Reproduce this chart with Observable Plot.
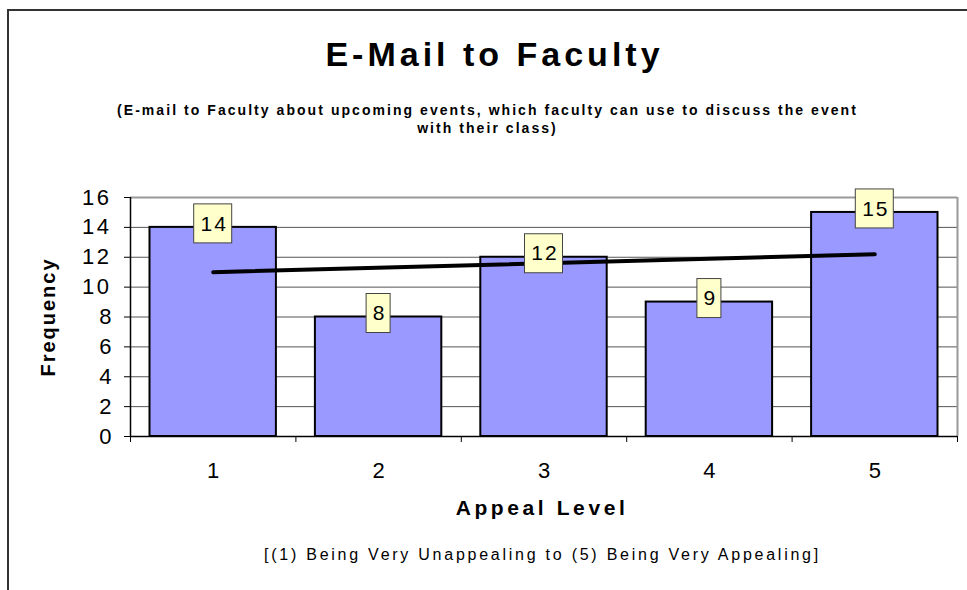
<!DOCTYPE html>
<html>
<head>
<meta charset="utf-8">
<script src="https://cdn.jsdelivr.net/npm/d3@7"></script>
<script src="https://cdn.jsdelivr.net/npm/@observablehq/plot@0.6"></script>
<style>
  html, body { margin: 0; padding: 0; background: #fff; }
  #wrap { position: relative; width: 967px; height: 590px; overflow: hidden; font-family: "Liberation Sans", Arial, sans-serif; }
  #border { position: absolute; left: 7px; top: 9px; width: 1000px; height: 700px; border-left: 2px solid #333; border-top: 2px solid #333; }
  #title { position: absolute; left: 11px; width: 967px; top: 34px; text-align: center; font-weight: bold; font-size: 34px; letter-spacing: 4px; line-height: 40px; }
  #subtitle { position: absolute; left: 4px; width: 967px; top: 101px; text-align: center; font-weight: bold; font-size: 14px; letter-spacing: 2.05px; line-height: 18px; }
  #caption { position: absolute; left: 70px; width: 945px; top: 546px; text-align: center; font-size: 16px; letter-spacing: 2.75px; }
  #chart { position: absolute; left: 0; top: 180px; }
</style>
</head>
<body>
<div id="wrap">
  <div id="border"></div>
  <div id="title">E-Mail to Faculty</div>
  <div id="subtitle">(E-mail to Faculty about upcoming events, which faculty can use to discuss the event<br>with their class)</div>
  <div id="chart"></div>
  <div id="caption">[(1) Being Very Unappealing to (5) Being Very Appealing]</div>
</div>
<script>
const levels = [1, 2, 3, 4, 5];
const frequency = [14, 8, 12, 9, 15];
const yTicks = [0, 2, 4, 6, 8, 10, 12, 14, 16];
const xLabel = "Appeal Level";
const yLabel = "Frequency";

const data = levels.map((l, i) => ({level: l, freq: frequency[i], label: String(frequency[i])}));

// linear trend line (least squares) computed from the data
const mx = d3.mean(levels), my = d3.mean(frequency);
const slope = d3.sum(levels, (x, i) => (x - mx) * (frequency[i] - my)) / d3.sum(levels, x => (x - mx) ** 2);
const trend = [levels[0], levels[levels.length - 1]].map(x => ({level: x, freq: my + slope * (x - mx)}));

const bounds = [levels[0] - 0.5, ...levels.map(l => l + 0.5)];

const chart = Plot.plot({
  width: 967,
  height: 400,
  marginLeft: 130,
  marginRight: 10,
  marginTop: 17,
  marginBottom: 144,
  style: {fontFamily: "Liberation Sans, Arial, sans-serif", fontSize: "21px", color: "#000", background: "transparent", overflow: "visible"},
  x: {domain: [levels[0] - 0.5, levels[levels.length - 1] + 0.5]},
  y: {domain: [0, 16]},
  marks: [
    Plot.gridY(yTicks, {stroke: "#555", strokeOpacity: 1, strokeWidth: 1}),
    Plot.ruleY([16], {stroke: "#999", strokeWidth: 2}),
    Plot.ruleX([levels[levels.length - 1] + 0.5], {stroke: "#999", strokeWidth: 2}),
    Plot.rectY(data, {x1: d => d.level - 0.5, x2: d => d.level + 0.5, y1: 0, y2: "freq", fill: "#9999FF", stroke: "#000", strokeWidth: 2, insetLeft: 19.5, insetRight: 19.5}),
    Plot.ruleX([levels[0] - 0.5], {stroke: "#000", strokeWidth: 1.5}),
    Plot.ruleY([0], {stroke: "#000", strokeWidth: 1.5}),
    Plot.axisY(yTicks, {tickSize: 6, tickPadding: 13, stroke: "#000", fontSize: 22, label: null, tickFormat: d => String(d)}),
    Plot.axisX(bounds, {tickSize: 6, stroke: "#000", tickFormat: () => "", label: null}),
    Plot.axisX(levels, {tickSize: 0, tickPadding: 26, fontSize: 22, label: null, tickFormat: d => String(d)}),
    Plot.line(trend, {x: "level", y: "freq", stroke: "#000", strokeWidth: 4}),
    Plot.rectY(data.filter(d => d.label.length > 1), {x1: d => d.level - 0.5, x2: d => d.level + 0.5, y1: "freq", y2: "freq", fill: "#FFFFCC", stroke: "#444", strokeWidth: 1, insetLeft: 63.7, insetRight: 63.7, insetTop: -23, insetBottom: -16}),
    Plot.rectY(data.filter(d => d.label.length === 1), {x1: d => d.level - 0.5, x2: d => d.level + 0.5, y1: "freq", y2: "freq", fill: "#FFFFCC", stroke: "#444", strokeWidth: 1, insetLeft: 70.7, insetRight: 70.7, insetTop: -23, insetBottom: -16}),
    Plot.text(data, {x: "level", y: "freq", text: "label", dy: -3.5, dx: 1, fontSize: 21, fill: "#000", lineAnchor: "middle"}),
    Plot.text([xLabel], {frameAnchor: "bottom", dy: 72, dx: -2, text: d => d, fontSize: 21, fontWeight: "bold", fill: "#000", lineAnchor: "middle", textAnchor: "middle"}),
    Plot.text([yLabel], {frameAnchor: "left", dx: -82, rotate: -90, text: d => d, fontSize: 20, fontWeight: "bold", fill: "#000", lineAnchor: "middle", textAnchor: "middle"})
  ]
});

// widen letter spacing like the original's stretched text
d3.select(chart).selectAll("text").each(function() {
  const t = this.textContent;
  const sel = d3.select(this);
  if (t === xLabel) sel.style("letter-spacing", "3.6px");
  else if (t === yLabel) sel.style("letter-spacing", "2px");
  else if (frequency.map(String).includes(t) && this.closest("g[aria-label='text']")) sel.style("letter-spacing", "2px");
  else if (t.length > 1) sel.style("letter-spacing", "2.5px");
});
document.getElementById("chart").appendChild(chart);
</script>
</body>
</html>
